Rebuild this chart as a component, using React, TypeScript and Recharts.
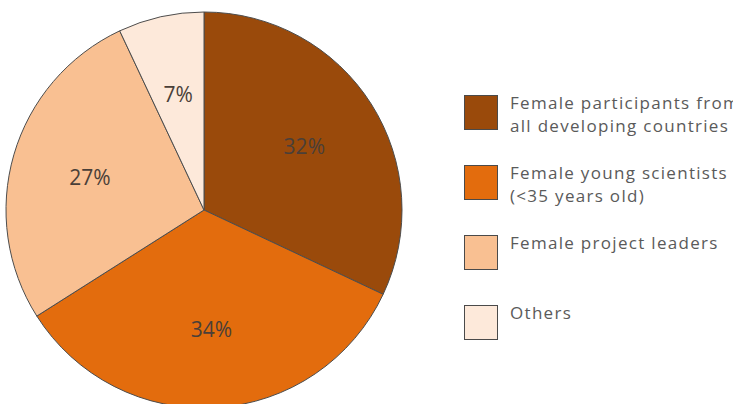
import { PieChart, Pie, Cell, Legend } from 'recharts';

const groups = [
  ['Female participants from', 'all developing countries'],
  ['Female young scientists', '(<35 years old)'],
  ['Female project leaders'],
  ['Others'],
];
const shares = [32, 34, 27, 7];
const colors = ['#9a4a0b', '#e36c0d', '#f9c092', '#fde9da'];

const data = shares.map((v, i) => ({ name: groups[i].join(' '), lines: groups[i], value: v }));

const RADIAN = Math.PI / 180;
const FONT = '"Open Sans", "Noto Sans", sans-serif';

function renderLabel(props: any) {
  const { cx, cy, midAngle, outerRadius, value } = props;
  const r = outerRadius * 0.6;
  const x = cx + r * Math.cos(-midAngle * RADIAN);
  const y = cy + r * Math.sin(-midAngle * RADIAN);
  return (
    <text x={x} y={y} fill="#4a3f38" fontSize={21} fontFamily={FONT} textAnchor="middle" dominantBaseline="central">
      {value}%
    </text>
  );
}

function renderLegend() {
  return (
    <div style={{ fontFamily: FONT, fontSize: 17, color: '#5a5a5a' }}>
      {data.map((d, i) => (
        <div key={d.name} style={{ display: 'flex', alignItems: 'flex-start', height: 70 }}>
          <div style={{ width: 32, height: 33, background: colors[i], border: '1px solid #4a4a4a', flexShrink: 0 }} />
          <div style={{ marginLeft: 12, marginTop: -4, lineHeight: '23px', whiteSpace: 'nowrap', letterSpacing: 1.3 }}>
            {d.lines.map((l) => (
              <div key={l}>{l}</div>
            ))}
          </div>
        </div>
      ))}
    </div>
  );
}

export default function App() {
  return (
    <div style={{ position: 'fixed', left: 0, top: 0, width: 733, height: 404, overflow: 'hidden', background: '#fff' }}>
      <PieChart width={733} height={404} margin={{ top: 0, right: 0, bottom: 0, left: 0 }}>
        <Pie
          data={data}
          dataKey="value"
          cx={204}
          cy={210}
          outerRadius={198}
          startAngle={90}
          endAngle={-270}
          label={renderLabel}
          labelLine={false}
          isAnimationActive={false}
        >
          {data.map((d, i) => (
            <Cell key={d.name} fill={colors[i]} stroke="#4d4d4d" strokeWidth={1} />
          ))}
        </Pie>
        <Legend
          layout="vertical"
          verticalAlign="top"
          align="right"
          wrapperStyle={{ left: 464, right: 'auto', top: 95, width: 300 }}
          content={renderLegend}
        />
      </PieChart>
    </div>
  );
}
